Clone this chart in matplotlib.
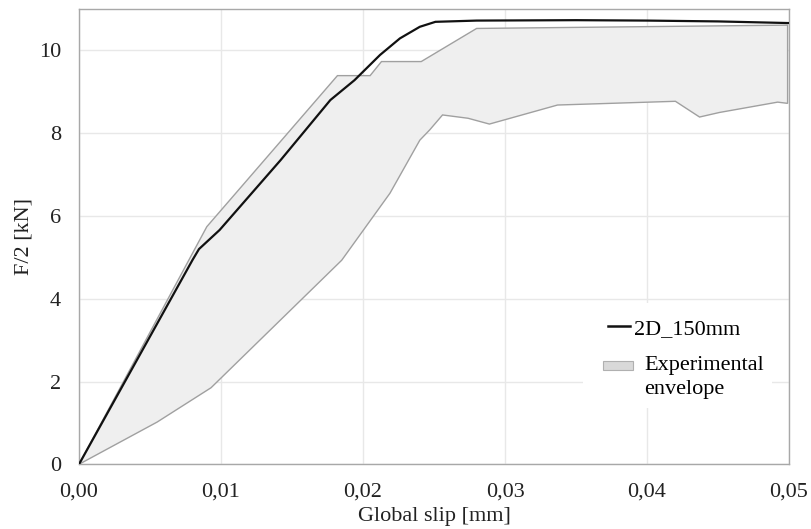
import matplotlib
matplotlib.use("Agg")
import matplotlib.pyplot as plt
import numpy as np
from matplotlib.lines import Line2D
from matplotlib.patches import Patch, Rectangle
from matplotlib.legend_handler import HandlerPatch
from matplotlib.ticker import FuncFormatter

# Numerical curve 2D_150mm
num_x = [0.0, 0.0080, 0.00845, 0.0099, 0.0142, 0.0177, 0.0194, 0.0212, 0.0226, 0.0240, 0.0251, 0.0280, 0.0350, 0.0400, 0.0450, 0.0500]
num_y = [0.0, 4.94, 5.20, 5.66, 7.35, 8.80, 9.28, 9.89, 10.29, 10.57, 10.69, 10.72, 10.73, 10.72, 10.70, 10.66]

# Experimental envelope: upper bound
up_x = [0.0, 0.0090, 0.0182, 0.0205, 0.0213, 0.0241, 0.0280, 0.0499]
up_y = [0.0, 5.74, 9.39, 9.39, 9.73, 9.73, 10.53, 10.61]

# Experimental envelope: lower bound
lo_x = [0.0, 0.0055, 0.0093, 0.0185, 0.0219, 0.0240, 0.0247, 0.0256, 0.0274, 0.0289, 0.0337, 0.0420, 0.0437, 0.0451, 0.0492, 0.0499]
lo_y = [0.0, 1.02, 1.85, 4.93, 6.55, 7.83, 8.08, 8.44, 8.36, 8.22, 8.68, 8.77, 8.39, 8.50, 8.75, 8.72]

x_ticks = [0.00, 0.01, 0.02, 0.03, 0.04, 0.05]
y_ticks = [0, 2, 4, 6, 8, 10]

plt.rcParams['font.family'] = ['Liberation Serif', 'DejaVu Serif']
plt.rcParams['font.size'] = 16
TXT = '#222222'

fig = plt.figure(figsize=(8.11, 5.29), dpi=100)
ax = fig.add_axes([0.0974, 0.1223, 0.8755, 0.8607])

poly_x = np.concatenate([up_x, lo_x[::-1]])
poly_y = np.concatenate([up_y, lo_y[::-1]])
ax.fill(poly_x, poly_y, facecolor='#efefef', edgecolor='#a0a0a0', linewidth=1.0, zorder=2)
ax.plot(num_x, num_y, color='#111111', linewidth=1.6, zorder=3,
        solid_joinstyle='round')

ax.set_xlim(0, 0.05)
ax.set_ylim(0, 11)
ax.set_xticks(x_ticks)
ax.set_yticks(y_ticks)
ax.xaxis.set_major_formatter(FuncFormatter(lambda v, p: f"{v:.2f}".replace('.', ',')))
ax.yaxis.set_major_formatter(FuncFormatter(lambda v, p: f"{v:.0f}"))
ax.tick_params(axis='x', length=0, pad=13, labelsize=16, colors=TXT)
ax.tick_params(axis='y', length=0, pad=13, labelsize=16, colors=TXT)
ax.grid(True, color='#e8e8e8', linewidth=1.0)
ax.set_axisbelow(True)
for s in ax.spines.values():
    s.set_color('#a8a8a8')
    s.set_linewidth(1.0)

ax.set_xlabel('Global slip [mm]', fontsize=16, labelpad=4, color=TXT)
ax.set_ylabel('F/2 [kN]', fontsize=16, labelpad=4, color=TXT)

# white legend background (hides grid lines)
ax.add_patch(Rectangle((0.710, 0.124), 0.266, 0.231, transform=ax.transAxes,
                       facecolor='white', edgecolor='none', zorder=1))


def patch_func(legend, orig_handle, xdescent, ydescent, width, height, fontsize):
    h = 6.5
    return Rectangle((-xdescent, -ydescent + (height - h) / 2 + 8.0), width, h)


leg1 = ax.legend([Line2D([0], [0], color='#111111', linewidth=1.8)], ['2D_150mm'],
                 loc='center left', bbox_to_anchor=(0.745, 0.298), frameon=False,
                 handlelength=1.0, handletextpad=0.15, borderpad=0, borderaxespad=0,
                 fontsize=16)
leg1.set_zorder(5)
ax.add_artist(leg1)

leg2 = ax.legend([Patch(facecolor='#d9d9d9', edgecolor='#b0b0b0', linewidth=0.8)],
                 ['Experimental\nenvelope'],
                 loc='center left', bbox_to_anchor=(0.738, 0.190), frameon=False,
                 handlelength=1.35, handletextpad=0.5, borderpad=0, borderaxespad=0,
                 fontsize=16, handler_map={Patch: HandlerPatch(patch_func=patch_func)})
leg2.get_texts()[0].set_linespacing(1.35)
leg2.set_zorder(5)

fig.savefig('out.png', dpi=100)
